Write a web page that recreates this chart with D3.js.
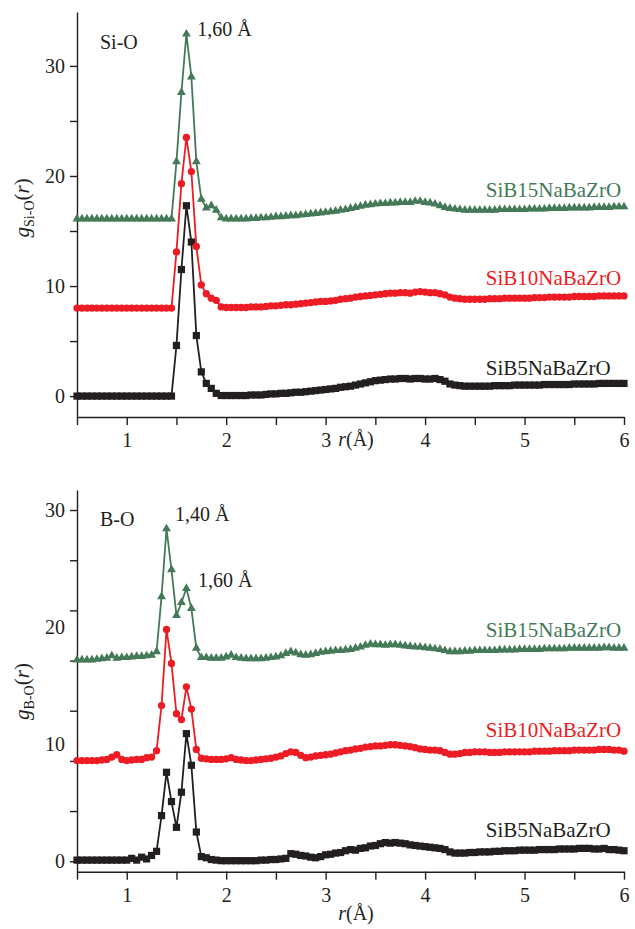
<!DOCTYPE html>
<html>
<head>
<meta charset="utf-8">
<script src="https://cdn.jsdelivr.net/npm/d3@7"></script>
<style>
  body { margin: 0; background: #fff; }
  text { font-family: "Liberation Serif", "DejaVu Serif", serif; fill: #231f20; }
</style>
</head>
<body>
<div id="chart"></div>
<script>
// r grid (angstrom), one point every 0.05
var rValues = [
  0.5,0.55,0.6,0.65,0.7,0.75,0.8,0.85,0.9,0.95,
  1,1.05,1.1,1.15,1.2,1.25,1.3,1.35,1.4,1.45,
  1.5,1.55,1.6,1.65,1.7,1.75,1.8,1.85,1.9,1.95,
  2,2.05,2.1,2.15,2.2,2.25,2.3,2.35,2.4,2.45,
  2.5,2.55,2.6,2.65,2.7,2.75,2.8,2.85,2.9,2.95,
  3,3.05,3.1,3.15,3.2,3.25,3.3,3.35,3.4,3.45,
  3.5,3.55,3.6,3.65,3.7,3.75,3.8,3.85,3.9,3.95,
  4,4.05,4.1,4.15,4.2,4.25,4.3,4.35,4.4,4.45,
  4.5,4.55,4.6,4.65,4.7,4.75,4.8,4.85,4.9,4.95,
  5,5.05,5.1,5.15,5.2,5.25,5.3,5.35,5.4,5.45,
  5.5,5.55,5.6,5.65,5.7,5.75,5.8,5.85,5.9,5.95,
  6];

var seriesNames = ["SiB5NaBaZrO", "SiB10NaBaZrO", "SiB15NaBaZrO"];

// g Si-O (r)
var siO_SiB5 = [
  0,0,0,0,0,0,0,0,0,0,
  0,0,0,0,0,0,0,0,0,0,
  4.6,11.5,17.3,14.0,5.5,2.2,1.15,0.7,0.25,0.05,
  0.05,0.05,0.05,0.05,0.05,0.1,0.1,0.1,0.15,0.2,
  0.2,0.25,0.25,0.3,0.35,0.35,0.4,0.45,0.5,0.55,
  0.6,0.65,0.7,0.8,0.85,0.9,1.0,1.1,1.2,1.3,
  1.4,1.45,1.5,1.55,1.55,1.6,1.6,1.55,1.6,1.6,
  1.55,1.55,1.6,1.5,1.35,1.1,1.0,0.95,0.9,0.9,
  0.9,0.9,0.9,0.9,0.95,0.95,0.95,0.95,1.0,1.0,
  1.0,1.0,1.0,1.0,1.05,1.05,1.05,1.05,1.05,1.05,
  1.1,1.1,1.1,1.1,1.1,1.15,1.15,1.15,1.15,1.15,
  1.15];
var siO_SiB10 = [
  8,8,8,8,8,8,8,8,8,8,
  8,8,8,8,8,8,8,8,8,8,
  13.1,19.3,23.5,20.4,13.6,10.1,9.3,8.9,8.7,8.1,
  8.05,8.05,8.05,8.05,8.05,8.1,8.1,8.1,8.15,8.2,
  8.2,8.25,8.3,8.3,8.35,8.4,8.45,8.5,8.55,8.6,
  8.6,8.65,8.7,8.8,8.85,8.9,9.0,9.05,9.1,9.15,
  9.2,9.25,9.3,9.35,9.35,9.4,9.4,9.35,9.45,9.5,
  9.45,9.4,9.4,9.3,9.2,9.0,8.9,8.85,8.8,8.8,
  8.8,8.8,8.8,8.85,8.85,8.85,8.9,8.9,8.9,8.9,
  8.9,8.9,8.95,8.95,8.95,9.0,9.0,9.0,9.0,9.0,
  9.05,9.05,9.05,9.05,9.05,9.1,9.1,9.1,9.1,9.1,
  9.1];
var siO_SiB15 = [
  16.1,16.1,16.1,16.1,16.1,16.1,16.1,16.1,16.1,16.1,
  16.1,16.1,16.1,16.1,16.1,16.1,16.1,16.1,16.1,16.1,
  21.3,27.6,32.9,29.0,21.3,17.9,17.1,17.3,16.9,16.2,
  16.1,16.1,16.1,16.1,16.1,16.15,16.15,16.2,16.2,16.25,
  16.3,16.3,16.35,16.4,16.4,16.45,16.5,16.55,16.6,16.65,
  16.7,16.75,16.8,16.9,16.95,17.05,17.15,17.25,17.35,17.4,
  17.45,17.5,17.5,17.55,17.55,17.6,17.6,17.6,17.7,17.7,
  17.6,17.55,17.45,17.3,17.15,17.05,17.0,16.95,16.9,16.9,
  16.9,16.9,16.9,16.9,16.9,16.95,16.95,16.95,16.95,16.95,
  16.95,17.0,17.0,17.0,17.0,17.05,17.05,17.05,17.05,17.1,
  17.1,17.1,17.1,17.1,17.15,17.15,17.15,17.15,17.2,17.2,
  17.2];

// g B-O (r)
var bO_SiB5 = [
  0.1,0.1,0.1,0.1,0.1,0.1,0.1,0.1,0.1,0.1,
  0.1,0.25,0.1,0.35,0.2,0.5,0.85,3.9,7.6,5.1,
  2.9,5.9,10.9,8.2,2.5,0.4,0.3,0.15,0.1,0.05,
  0.05,0.05,0.05,0.05,0.05,0.05,0.05,0.1,0.1,0.15,
  0.15,0.2,0.25,0.65,0.6,0.5,0.45,0.35,0.3,0.4,
  0.55,0.6,0.7,0.75,0.9,1.0,0.95,1.1,1.15,1.3,
  1.35,1.5,1.6,1.55,1.6,1.55,1.5,1.4,1.35,1.3,
  1.25,1.2,1.15,1.1,1.0,0.8,0.7,0.7,0.7,0.75,
  0.75,0.8,0.8,0.8,0.85,0.85,0.9,0.9,0.9,0.95,
  0.95,0.95,0.95,1.0,1.0,1.0,1.0,1.05,1.05,1.05,
  1.05,1.1,1.1,1.1,1.05,1.05,1.1,1.0,1.0,0.95,
  0.9];
var bO_SiB10 = [
  8.6,8.6,8.6,8.6,8.6,8.65,8.7,8.9,9.1,8.7,
  8.6,8.65,8.7,8.7,8.85,8.9,9.45,13.3,19.8,16.9,
  12.6,12.1,14.9,13.0,9.55,8.8,8.75,8.7,8.7,8.7,
  8.75,8.85,8.7,8.65,8.6,8.6,8.65,8.7,8.75,8.8,
  8.9,9.0,9.2,9.35,9.3,9.05,8.85,8.9,9.0,9.05,
  9.1,9.15,9.25,9.35,9.45,9.5,9.6,9.65,9.75,9.8,
  9.85,9.85,9.9,9.95,9.95,9.9,9.85,9.8,9.7,9.6,
  9.55,9.5,9.5,9.45,9.3,9.15,9.15,9.2,9.3,9.3,
  9.35,9.35,9.35,9.3,9.3,9.3,9.35,9.35,9.35,9.35,
  9.35,9.35,9.4,9.4,9.4,9.4,9.45,9.45,9.45,9.45,
  9.5,9.5,9.5,9.5,9.5,9.55,9.55,9.55,9.5,9.5,
  9.4];
var bO_SiB15 = [
  17.2,17.2,17.2,17.2,17.25,17.3,17.35,17.55,17.35,17.4,
  17.4,17.45,17.5,17.5,17.55,17.6,17.9,22.6,28.4,24.9,
  21.0,22.1,23.3,21.6,18.2,17.4,17.4,17.35,17.35,17.35,
  17.45,17.6,17.4,17.35,17.3,17.3,17.3,17.3,17.35,17.4,
  17.45,17.55,17.75,17.9,17.8,17.65,17.6,17.65,17.75,17.85,
  17.9,17.95,18.0,18.0,18.05,18.1,18.2,18.3,18.45,18.55,
  18.5,18.5,18.45,18.5,18.5,18.45,18.4,18.35,18.3,18.3,
  18.25,18.2,18.15,18.1,18.0,17.9,17.9,17.9,17.95,17.95,
  18.0,18.0,18.0,18.0,18.0,18.05,18.05,18.05,18.05,18.1,
  18.1,18.1,18.1,18.1,18.15,18.15,18.15,18.15,18.15,18.2,
  18.2,18.2,18.2,18.2,18.2,18.2,18.25,18.25,18.2,18.2,
  18.2];

// axis ticks
var xTicks = [0.5,1,1.5,2,2.5,3,3.5,4,4.5,5,5.5,6];
var xTickLabels = [1,2,3,4,5,6];
var siYTicks = [0,5,10,15,20,25,30];
var bYTicks = [0,4.29,8.57,12.86,17.14,21.43,25.71,30];
var yTickLabels = [0,10,20,30];

var colors = ["#231f20", "#ed1c24", "#447a58"];
var ink = "#231f20";

var width = 635, height = 929;

var svg = d3.select("#chart")
  .append("svg")
    .attr("width", width)
    .attr("height", height);

var x = d3.scaleLinear().domain([0.5, 6]).range([77, 624]);

var panels = [
  { title: "Si-O", sub: "Si-O", yDomain: [-1.9, 34.9], yRange: [417, 12],
    yTicks: siYTicks, data: [siO_SiB5, siO_SiB10, siO_SiB15],
    labelAt: [1.9, 10.1, 18.1], titleAt: 31.5, axisTitleMid: 17.1, xTitleGap: 29,
    peaks: [{ text: "1,60 Å", r: 1.71, v: 32.7 }] },
  { title: "B-O", sub: "B-O", yDomain: [-0.89, 31.71], yRange: [871.7, 490],
    yTicks: bYTicks, data: [bO_SiB5, bO_SiB10, bO_SiB15],
    labelAt: [2.07, 10.6, 19.15], titleAt: 28.6, axisTitleMid: 14.5, xTitleGap: 48,
    peaks: [{ text: "1,40 Å", r: 1.485, v: 29.06 }, { text: "1,60 Å", r: 1.717, v: 23.4 }] }
];

var symbols = [d3.symbolSquare, d3.symbolCircle, d3.symbolTriangle];
var symbolSizes = [52, 42, 34];

panels.forEach(function(p) {
  var y = d3.scaleLinear().domain(p.yDomain).range(p.yRange);
  var g = svg.append("g");
  var axisY = p.yRange[0];

  // x axis with ticks every 0.5
  var xa = g.append("g")
    .attr("transform", "translate(0," + axisY + ")")
    .call(d3.axisBottom(x).tickValues(xTicks).tickSize(8).tickSizeOuter(0)
      .tickPadding(8)
      .tickFormat(function(d) { return xTickLabels.indexOf(d) >= 0 ? d : ""; }));

  // y axis ticks
  var ya = g.append("g")
    .attr("transform", "translate(" + x(0.5) + ",0)")
    .call(d3.axisLeft(y).tickValues(p.yTicks).tickSize(7).tickSizeOuter(0)
      .tickFormat(""));

  // y labels (in the original they don't line up with the ticks of B-O)
  var yl = g.append("g")
    .attr("transform", "translate(" + x(0.5) + ",0)")
    .call(d3.axisLeft(y).tickValues(yTickLabels).tickSize(0).tickPadding(12));
  yl.select(".domain").remove();

  [xa, ya].forEach(function(a) {
    a.selectAll("path, line").attr("stroke", ink).attr("stroke-width", 1.4);
  });
  g.selectAll(".tick text")
    .attr("font-family", '"Liberation Serif", serif')
    .attr("font-size", 20)
    .attr("fill", ink);

  // curves
  p.data.forEach(function(vals, i) {
    var pts = rValues.map(function(r, k) { return [r, vals[k]]; });
    g.append("path")
      .datum(pts)
      .attr("fill", "none")
      .attr("stroke", colors[i])
      .attr("stroke-width", 1.8)
      .attr("d", d3.line()
        .x(function(d) { return x(d[0]); })
        .y(function(d) { return y(d[1]); }));

    g.append("g")
      .selectAll("path")
      .data(pts)
      .enter()
      .append("path")
        .attr("transform", function(d) { return "translate(" + x(d[0]) + "," + y(d[1]) + ")"; })
        .attr("d", d3.symbol().type(symbols[i]).size(symbolSizes[i]))
        .attr("fill", colors[i]);

    g.append("text")
      .attr("x", x(4.61))
      .attr("y", y(p.labelAt[i]))
      .attr("font-size", 21)
      .style("fill", colors[i])
      .text(seriesNames[i]);
  });

  // panel title
  g.append("text")
    .attr("x", x(0.731))
    .attr("y", y(p.titleAt))
    .attr("font-size", 20)
    .text(p.title);

  // peak positions
  p.peaks.forEach(function(pk) {
    g.append("text")
      .attr("x", x(pk.r))
      .attr("y", y(pk.v))
      .attr("font-size", 20)
      .text(pk.text);
  });

  // x axis title r(Å)
  var xt = g.append("text")
    .attr("x", 356)
    .attr("y", axisY + p.xTitleGap)
    .attr("text-anchor", "middle")
    .attr("font-size", 20);
  xt.append("tspan").attr("font-style", "italic").text("r");
  xt.append("tspan").text("(Å)");

  // y axis title g_X-O(r)
  var yt = g.append("text")
    .attr("transform", "translate(29," + y(p.axisTitleMid) + ") rotate(-90)")
    .attr("text-anchor", "middle")
    .attr("font-size", 21);
  yt.append("tspan").attr("font-style", "italic").text("g");
  yt.append("tspan").attr("font-size", 14).attr("dy", 5).text(p.sub);
  yt.append("tspan").attr("dy", -5).text("(");
  yt.append("tspan").attr("font-style", "italic").text("r");
  yt.append("tspan").text(")");
});
</script>
</body>
</html>
